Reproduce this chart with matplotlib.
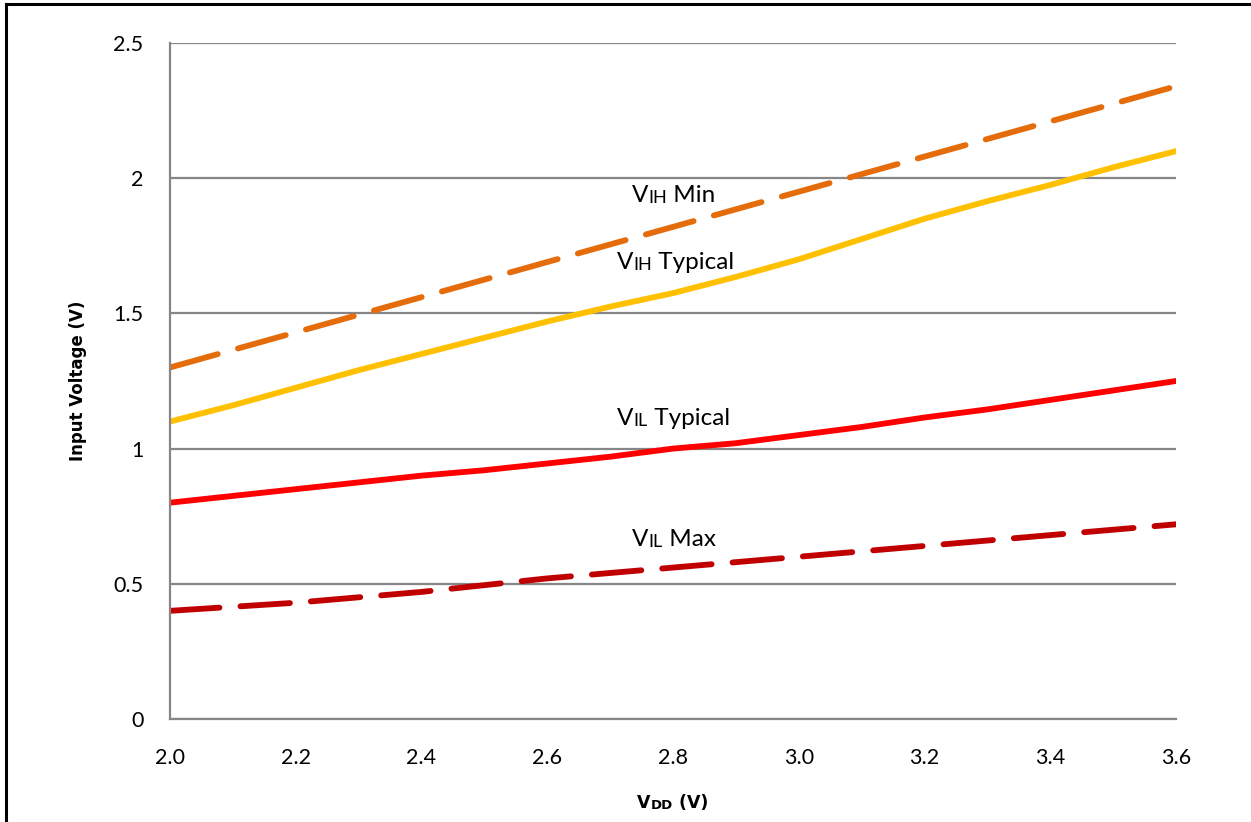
import matplotlib
matplotlib.use("Agg")
import matplotlib.pyplot as plt
from matplotlib.lines import Line2D

# supply voltage (V)
vdd = [2.0, 2.1, 2.2, 2.3, 2.4, 2.5, 2.6, 2.7, 2.8, 2.9, 3.0, 3.1, 3.2, 3.3, 3.4, 3.5, 3.6]

vih_min = [1.30, 1.365, 1.43, 1.495, 1.56, 1.625, 1.69, 1.755, 1.82, 1.885,
           1.95, 2.015, 2.08, 2.145, 2.21, 2.275, 2.34]
vih_typ = [1.10, 1.16, 1.225, 1.29, 1.35, 1.41, 1.47, 1.525, 1.575, 1.635,
           1.70, 1.775, 1.85, 1.915, 1.975, 2.04, 2.10]
vil_typ = [0.80, 0.825, 0.85, 0.875, 0.90, 0.92, 0.945, 0.97, 1.00, 1.02,
           1.05, 1.08, 1.115, 1.145, 1.18, 1.215, 1.25]
vil_max = [0.40, 0.415, 0.43, 0.45, 0.47, 0.495, 0.52, 0.54, 0.56, 0.58,
           0.60, 0.62, 0.64, 0.66, 0.68, 0.70, 0.72]

x_ticks = [2.0, 2.2, 2.4, 2.6, 2.8, 3.0, 3.2, 3.4, 3.6]
y_ticks = [0, 0.5, 1, 1.5, 2, 2.5]
y_tick_labels = ["0", "0.5", "1", "1.5", "2", "2.5"]

# curve labels: (main letter, small caps part, rest, x, y)
labels = [
    ("V", "IH", " Min", 2.735, 1.912),
    ("V", "IH", " Typical", 2.711, 1.664),
    ("V", "IL", " Typical", 2.711, 1.087),
    ("V", "IL", " Max", 2.735, 0.639),
]

FONT = "Lato"
BOLD = "DejaVu Sans"
GRID = "#868686"

fig = plt.figure(figsize=(12.51, 8.22), dpi=100)
ax = fig.add_axes([170 / 1251, 1 - 719 / 822, 1006 / 1251, 676 / 822])

ax.plot(vdd, vih_min, color="#E46C0A", lw=4.2, dashes=(8.5, 3.6), dash_capstyle="round")
ax.plot(vdd, vih_typ, color="#FFC000", lw=4.2, solid_capstyle="round")
ax.plot(vdd, vil_typ, color="#FF0000", lw=4.2, solid_capstyle="round")
ax.plot(vdd, vil_max, color="#C00000", lw=4.2, dashes=(8.5, 3.6), dash_capstyle="round")

ax.set_xlim(2.0, 3.6)
ax.set_ylim(0, 2.5)
ax.set_xticks(x_ticks)
ax.set_xticklabels([f"{t:.1f}" for t in x_ticks], fontsize=15.5, family=FONT)
ax.set_yticks(y_ticks)
ax.set_yticklabels(y_tick_labels, fontsize=15.5, family=FONT)
ax.tick_params(length=0)
ax.tick_params(axis="y", pad=19)
ax.tick_params(axis="x", pad=21)

ax.grid(axis="y", color=GRID, lw=1.6, zorder=0)
ax.set_axisbelow(True)
for side in ["top", "right"]:
    ax.spines[side].set_visible(False)
for side in ["left", "bottom"]:
    ax.spines[side].set_color(GRID)
    ax.spines[side].set_linewidth(1.6)

# axis titles with small caps subscripts
ax.set_ylabel("Input Voltage (V)", fontsize=12, fontweight="bold",
              family=BOLD, labelpad=19)
xl = fig.text(637 / 1251, 1 - 808 / 822, "V", fontsize=12.5, fontweight="bold",
              family=BOLD, va="baseline")
xl2 = ax.annotate("DD", xy=(1, 0), xycoords=xl, fontsize=9.5, fontweight="bold",
                  family=BOLD, va="bottom", annotation_clip=False)
ax.annotate(" (V)", xy=(1, 0), xycoords=xl2, fontsize=12.5, fontweight="bold",
            family=BOLD, va="bottom", annotation_clip=False)

for big, small, rest, lx, ly in labels:
    t1 = ax.text(lx, ly, big, fontsize=17.5, family=FONT, va="baseline")
    t2 = ax.annotate(small, xy=(1, 0), xycoords=t1, fontsize=13, family=FONT,
                     va="bottom", annotation_clip=False)
    ax.annotate(rest, xy=(1, 0), xycoords=t2, fontsize=17.5, family=FONT,
                va="bottom", annotation_clip=False)

# outer frame (top and left edges visible)
fig.add_artist(Line2D([6 / 1251, 6 / 1251], [0, 1 - 4 / 822], color="black", lw=2.2,
                      transform=fig.transFigure))
fig.add_artist(Line2D([6 / 1251, 1], [1 - 4 / 822, 1 - 4 / 822], color="black", lw=2.2,
                      transform=fig.transFigure))

fig.savefig("out.png", dpi=100)
